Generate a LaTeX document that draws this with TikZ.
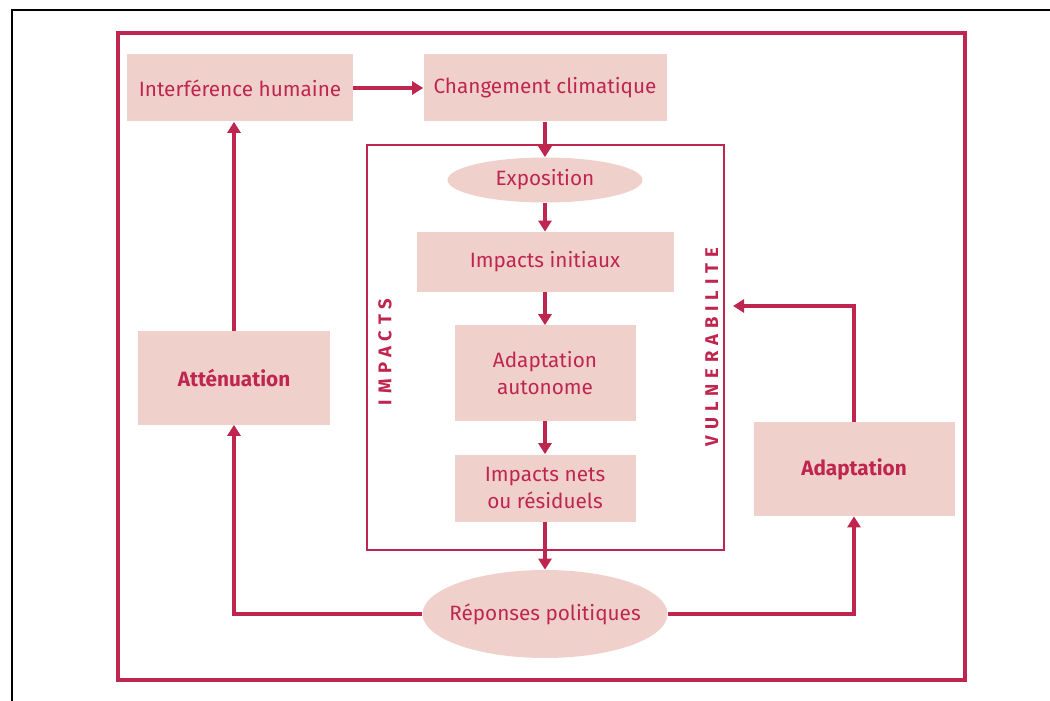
\documentclass[tikz,border=0pt]{standalone}
\usepackage{fontspec}
\setmainfont{Fira Sans}
\usetikzlibrary{shapes.geometric,arrows.meta}
\definecolor{wine}{HTML}{BE2650}
\definecolor{blush}{HTML}{F0D0CB}
\tikzset{
  box/.style={fill=blush,text=wine,align=center,inner sep=2pt,
    font=\fontsize{11.8}{15}\selectfont},
  strong/.style={box,font=\bfseries\fontsize{11.8}{15}\selectfont},
  blob/.style={box,ellipse,inner xsep=-2mm},
  link/.style={draw=wine,line width=0.65mm,-{Triangle[length=2.2mm,width=2.6mm]}},
  frame/.style={draw=wine,line width=0.65mm},
  tag/.style={text=wine,rotate=90,
    font=\bfseries\fontsize{10.5}{14}\selectfont\addfontfeature{LetterSpace=32}}
}

\begin{document}
\begin{tikzpicture}[x=0.2mm,y=-0.2mm]
  \useasboundingbox (0,0) rectangle (1050,701);
  \draw[line width=0.5mm] (12,701) |- (1050,10);
  \draw[frame] (118,33) rectangle (965,680);
  \draw[frame,line width=0.55mm] (367,145) rectangle (724,550);

  % top row
  \node[box,minimum width=45mm,minimum height=13.4mm] (interf) at (240,88) {Interférence humaine};
  \node[box,minimum width=48.6mm,minimum height=13.4mm] (chang) at (545,88) {Changement climatique};

  % inner column
  \node[blob,minimum width=39mm,minimum height=9mm] (expo) at (545,180) {Exposition};
  \node[box,minimum width=51.4mm,minimum height=12mm] (init) at (545,262) {Impacts initiaux};
  \node[box,minimum width=36.2mm,minimum height=19mm] (auto) at (545,373) {Adaptation\\autonome};
  \node[box,minimum width=36.2mm,minimum height=13.4mm] (nets) at (545,488) {Impacts nets\\ou résiduels};
  \node[blob,minimum width=49mm,minimum height=17.6mm] (rep) at (545,614) {Réponses politiques};

  % side boxes
  \node[strong,minimum width=38.4mm,minimum height=18.6mm] (att) at (234,378) {Atténuation};
  \node[strong,minimum width=40.2mm,minimum height=18.8mm] (adapt) at (854,469) {Adaptation};

  \node[tag] (imp) at (385,352) {IMPACTS};
  \node[tag] (vuln) at (712,347) {VULNERABILITE};
  \coordinate (vtip) at (733,306);

  \draw[link] (interf) -- (chang);
  \draw[link] (chang) -- (expo);
  \draw[link] (expo) -- (init);
  \draw[link] (init) -- (auto);
  \draw[link] (auto) -- (nets);
  \draw[link] (nets) -- (rep);
  \draw[link] (rep.west) -| (att.south);
  \draw[link] (rep.east) -| (adapt.south);
  \draw[link] (att.north) -- (att.north |- interf.south);
  \draw[link] (adapt.north) |- (vtip);
\end{tikzpicture}
\end{document}
